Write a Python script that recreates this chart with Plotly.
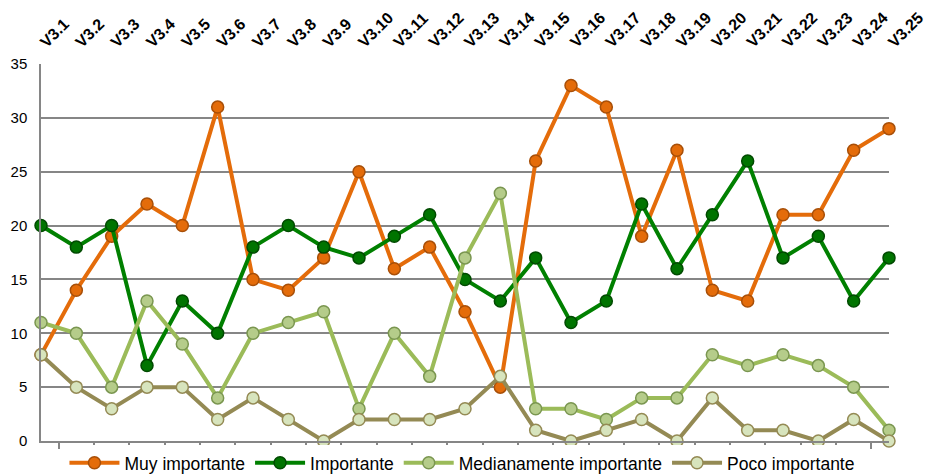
import plotly.graph_objects as go

categories = [f"V3.{i}" for i in range(1, 26)]

muy_importante = [8, 14, 19, 22, 20, 31, 15, 14, 17, 25, 16, 18, 12, 5, 26, 33, 31, 19, 27, 14, 13, 21, 21, 27, 29]
importante = [20, 18, 20, 7, 13, 10, 18, 20, 18, 17, 19, 21, 15, 13, 17, 11, 13, 22, 16, 21, 26, 17, 19, 13, 17]
medianamente = [11, 10, 5, 13, 9, 4, 10, 11, 12, 3, 10, 6, 17, 23, 3, 3, 2, 4, 4, 8, 7, 8, 7, 5, 1]
poco = [8, 5, 3, 5, 5, 2, 4, 2, 0, 2, 2, 2, 3, 6, 1, 0, 1, 2, 0, 4, 1, 1, 0, 2, 0]

# name, values, line colour, marker fill, marker edge (drawn bottom to top)
series = [
    ("Muy importante", muy_importante, "#e46c0a", "#e46c0a", "#a84f08"),
    ("Importante", importante, "#008000", "#007400", "#004a00"),
    ("Medianamente importante", medianamente, "#9bbb59", "#b5cc8a", "#7a9650"),
    ("Poco importante", poco, "#948a54", "#d7e4bd", "#948a54"),
]

xs = list(range(len(categories)))

fig = go.Figure()
for name, vals, line_c, fill_c, edge_c in series:
    fig.add_trace(go.Scatter(
        x=xs, y=vals, name=name, mode="lines+markers",
        line=dict(color=line_c, width=4),
        marker=dict(size=12, color=fill_c, line=dict(color=edge_c, width=1.5)),
        cliponaxis=False,
    ))

# empty trace that carries the top category axis
fig.add_trace(go.Scatter(x=xs, y=[None] * len(xs), xaxis="x2", showlegend=False, hoverinfo="skip"))

fig.update_layout(
    width=925, height=474,
    margin=dict(l=41, r=36, t=64, b=33, autoexpand=False),
    paper_bgcolor="white", plot_bgcolor="white",
    font=dict(family="Arial, Liberation Sans, sans-serif", color="#000000"),
    xaxis=dict(
        range=[0, len(categories) - 1],
        tickvals=[i + 0.5 for i in range(len(categories) - 1)],
        showticklabels=False,
        ticks="outside", ticklen=6, tickwidth=1.5, tickcolor="#868686",
        showgrid=False, zeroline=False,
        showline=True, linecolor="#868686", linewidth=1.5,
    ),
    xaxis2=dict(
        overlaying="x", side="top", matches="x",
        range=[0, len(categories) - 1],
        tickvals=xs, ticktext=[f"<b>{c}</b>" for c in categories],
        tickangle=-45, tickfont=dict(size=16, color="#000000"),
        ticklabelstandoff=9, ticklabeloverflow="allow",
        ticks="", showgrid=False, zeroline=False, showline=False,
    ),
    yaxis=dict(
        range=[0, 35], dtick=5,
        tickfont=dict(size=15, color="#000000"),
        ticklabelstandoff=9,
        showgrid=True, gridcolor="#868686", gridwidth=1.5,
        zeroline=False, showline=True, linecolor="#868686", linewidth=1.5,
        ticks="", ticklen=0,
    ),
    legend=dict(
        orientation="h", x=0.497, xanchor="center", y=-0.058, yanchor="middle",
        font=dict(size=17.5, color="#000000"),
        itemwidth=50,
    ),
)

fig.write_html("out.html")
